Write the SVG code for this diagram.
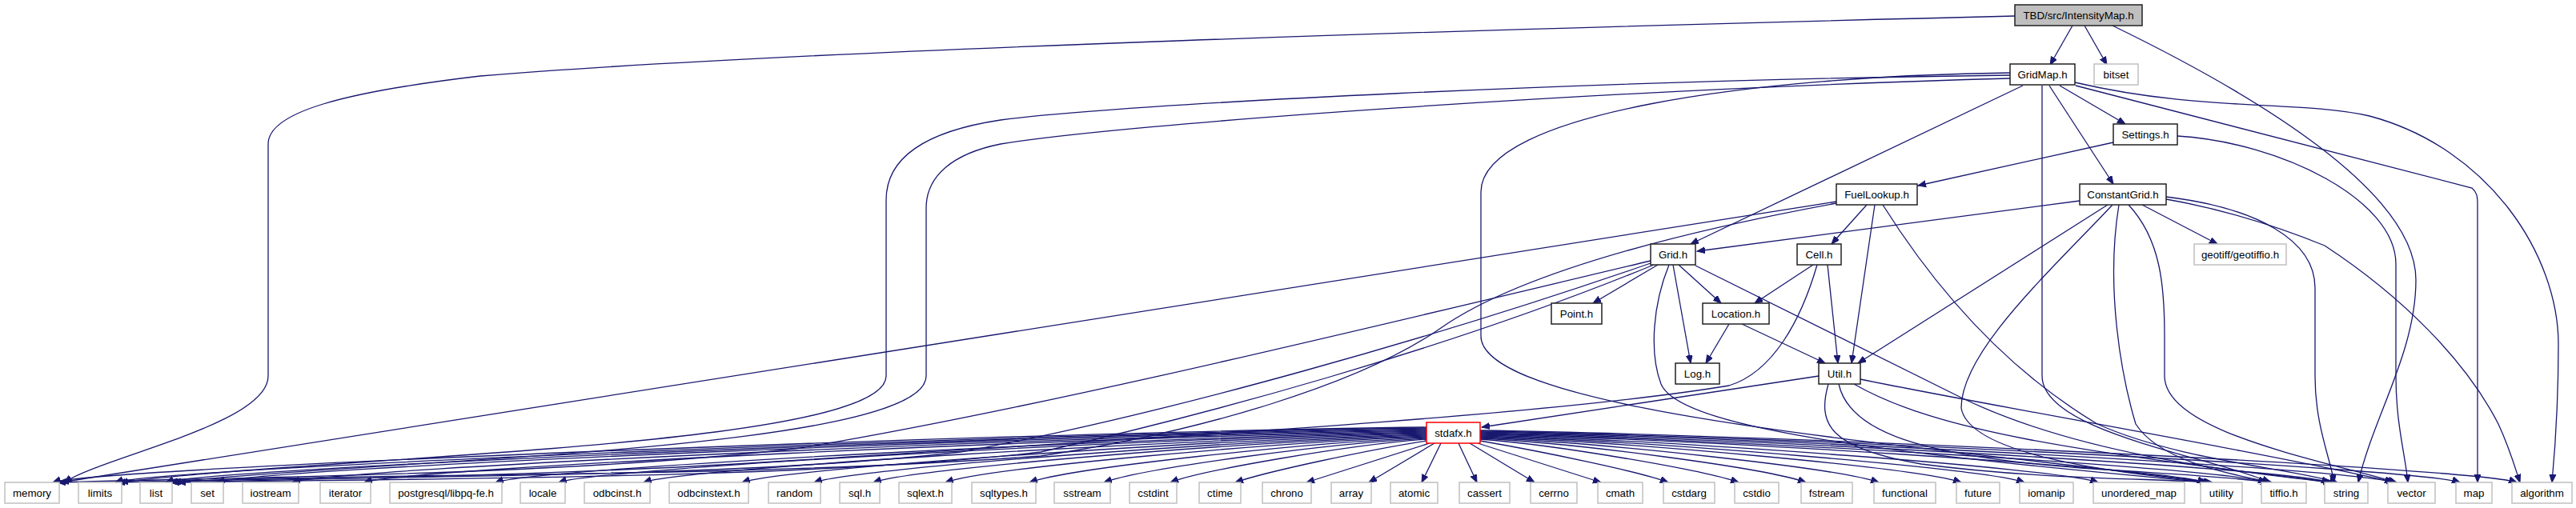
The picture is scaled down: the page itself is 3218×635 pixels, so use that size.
<svg xmlns="http://www.w3.org/2000/svg" width="3218" height="635" viewBox="0 0 3218 635">
<style>
.e{fill:none;stroke:#191970;stroke-width:1.3;marker-end:url(#a)}
.n rect{fill:#fff;stroke:#222;stroke-width:1.5}
.x rect{fill:#fff;stroke:#c0c0c0;stroke-width:1.5}
.r rect{fill:#bfbfbf;stroke:#222;stroke-width:1.5}
.t rect{fill:#fff;stroke:#ff0000;stroke-width:1.5}
text{font-family:"Liberation Sans",Arial,Helvetica,sans-serif;font-size:13.3px;fill:#000;text-anchor:middle}
</style>
<defs>
<marker id="a" markerWidth="11" markerHeight="9" refX="10" refY="4" orient="auto" markerUnits="userSpaceOnUse"><path d="M0,0 L10,4 L0,8 z" fill="#191970" stroke="#191970" stroke-width="1"/></marker>
</defs>
<rect width="3218" height="635" fill="#fff"/>
<g id="edges">
<path class="e" d="M2517,20 C1900,35 1000,62 600,95 C430,115 335,140 335,180 L335,470 C335,530 130,570 80,603"/>
<path class="e" d="M2589,32 L2561,81"/>
<path class="e" d="M2604,32 L2632,81"/>
<path class="e" d="M2639,32 C2820,120 3018,240 3018,350 C3018,440 2965,520 2946,603"/>
<path class="e" d="M2511,94 C2000,100 1400,130 1250,150 C1150,165 1107,200 1107,250 L1107,470 C1107,560 400,570 150,603"/>
<path class="e" d="M2511,98 C2000,112 1400,155 1250,180 C1190,192 1157,220 1157,260 L1157,470 C1157,565 450,575 212,603"/>
<path class="e" d="M2511,91 C2200,95 1850,140 1850,240 L1850,420 C1850,520 2450,560 2762,603"/>
<path class="e" d="M2527,107 L2112,305"/>
<path class="e" d="M2551,107 L2551,470 C2551,540 2760,570 2836,603"/>
<path class="e" d="M2560,107 L2640,230"/>
<path class="e" d="M2573,107 L2655,155"/>
<path class="e" d="M2592,103 C2750,140 2870,125 2960,145 C3110,185 3196,320 3196,430 C3196,500 3192,560 3188,603"/>
<path class="e" d="M2593,107 L3088,235 C3094,240 3095,245 3095,255 L3095,603"/>
<path class="e" d="M2640,178 L2396,232"/>
<path class="e" d="M2720,170 C2850,178 2993,250 2993,330 L2993,470 C2993,530 3005,570 3008,603"/>
<path class="e" d="M2332,256 L2288,305"/>
<path class="e" d="M2342,256 L2313,454"/>
<path class="e" d="M2352,256 C2430,380 2520,470 2620,530 C2720,575 2860,585 2920,603"/>
<path class="e" d="M2294,252 L76,603"/>
<path class="e" d="M2294,254 C2100,290 1900,340 1800,410 C1700,480 1500,540 1300,570 C900,600 400,590 216,603"/>
<path class="e" d="M2071,331 L1990,379"/>
<path class="e" d="M2097,331 L2150,379"/>
<path class="e" d="M2090,331 L2112,454"/>
<path class="e" d="M2062,326 C1700,412 1300,510 1000,560 C700,595 300,596 72,603"/>
<path class="e" d="M2062,329 C1800,420 1450,520 1200,565 C900,600 400,595 146,603"/>
<path class="e" d="M2066,331 C1800,440 1500,520 1300,565 C1000,600 500,598 214,603"/>
<path class="e" d="M2085,331 C2065,380 2060,440 2075,480 C2100,540 2400,570 2758,603"/>
<path class="e" d="M2118,332 L2450,497 C2600,570 2800,590 2912,603"/>
<path class="e" d="M2265,331 L2192,379"/>
<path class="e" d="M2283,331 L2296,454"/>
<path class="e" d="M2270,331 C2250,400 2215,465 2160,482 C1900,525 1300,555 1000,575 C700,595 400,598 222,603"/>
<path class="e" d="M2160,405 L2131,454"/>
<path class="e" d="M2176,405 L2280,454"/>
<path class="e" d="M2272,470 L1851,534"/>
<path class="e" d="M2284,480 C2270,530 2284,560 2400,580 C2550,600 2700,598 2760,603"/>
<path class="e" d="M2297,480 C2310,540 2400,570 2600,585 C2700,592 2790,596 2834,603"/>
<path class="e" d="M2316,480 C2420,540 2600,565 2914,603"/>
<path class="e" d="M2324,474 C2500,510 2800,560 2992,603"/>
<path class="e" d="M2598,251 L2120,314"/>
<path class="e" d="M2633,256 L2321,454"/>
<path class="e" d="M2676,256 L2770,305"/>
<path class="e" d="M2639,256 C2560,340 2450,440 2450,510 C2460,570 2650,592 2764,603"/>
<path class="e" d="M2647,256 C2630,360 2650,470 2668,530 C2700,580 2800,595 2838,603"/>
<path class="e" d="M2659,256 C2700,300 2704,360 2704,420 L2704,470 C2704,540 2900,575 2994,603"/>
<path class="e" d="M2706,246 C2820,260 2892,300 2892,360 L2892,470 C2892,530 2910,570 2916,603"/>
<path class="e" d="M2706,249 C2780,262 2850,285 2904,307 C3000,370 3080,450 3121,530 C3135,560 3142,585 3148,603"/>
<path class="e" d="M1782,534 C1267,540 116,585 66,603"/>
<path class="e" d="M1782,535 C1291,541 194,585 144,603"/>
<path class="e" d="M1782,536 C1310,542 257,585 207,603"/>
<path class="e" d="M1782,537 C1329,543 321,585 271,603"/>
<path class="e" d="M1782,538 C1357,544 415,585 365,603"/>
<path class="e" d="M1782,539 C1384,545 505,585 455,603"/>
<path class="e" d="M1782,540 C1433,546 669,585 619,603"/>
<path class="e" d="M1782,541 C1457,547 748,585 698,603"/>
<path class="e" d="M1782,542 C1489,548 854,585 804,603"/>
<path class="e" d="M1782,543 C1526,549 977,585 927,603"/>
<path class="e" d="M1782,544 C1553,550 1067,585 1017,603"/>
<path class="e" d="M1782,545 C1575,551 1141,585 1091,603"/>
<path class="e" d="M1782,546 C1602,552 1231,585 1181,603"/>
<path class="e" d="M1782,547 C1633,553 1336,585 1286,603"/>
<path class="e" d="M1782,548 C1661,554 1429,585 1379,603"/>
<path class="e" d="M1782,549 C1686,556 1500,588 1462,603"/>
<path class="e" d="M1782,551 C1710,562 1580,590 1543,603"/>
<path class="e" d="M1786,554 L1632,603"/>
<path class="e" d="M1792,554 L1710,603"/>
<path class="e" d="M1800,554 L1776,603"/>
<path class="e" d="M1822,554 L1845,603"/>
<path class="e" d="M1836,554 L1917,603"/>
<path class="e" d="M1846,554 L2000,603"/>
<path class="e" d="M1849,551 C1930,565 2050,590 2084,603"/>
<path class="e" d="M1849,549 C1945,556 2130,588 2172,603"/>
<path class="e" d="M1849,548 C1971,554 2206,585 2256,603"/>
<path class="e" d="M1849,547 C1998,553 2297,585 2347,603"/>
<path class="e" d="M1849,546 C2029,552 2400,585 2450,603"/>
<path class="e" d="M1849,545 C2053,551 2479,585 2529,603"/>
<path class="e" d="M1849,544 C2081,550 2571,585 2621,603"/>
<path class="e" d="M1849,543 C2121,549 2705,585 2755,603"/>
<path class="e" d="M1849,542 C2144,548 2781,585 2831,603"/>
<path class="e" d="M1849,541 C2167,547 2860,585 2910,603"/>
<path class="e" d="M1849,540 C2191,546 2939,585 2989,603"/>
<path class="e" d="M1849,539 C2216,545 3023,585 3073,603"/>
<path class="e" d="M1849,538 C2238,544 3094,585 3144,603"/>
</g>
<g id="n-IntensityMap" class="r"><rect x="2517" y="6" width="159" height="26"/><text x="2596.5" y="23.5">TBD/src/IntensityMap.h</text></g>
<g id="n-GridMap" class="n"><rect x="2511" y="80" width="81" height="26"/><text x="2551.5" y="97.5">GridMap.h</text></g>
<g id="n-bitset" class="x"><rect x="2616" y="80" width="55" height="26"/><text x="2643.5" y="97.5">bitset</text></g>
<g id="n-Settings" class="n"><rect x="2640" y="155" width="80" height="26"/><text x="2680" y="172.5">Settings.h</text></g>
<g id="n-FuelLookup" class="n"><rect x="2294" y="230" width="101" height="26"/><text x="2344.5" y="247.5">FuelLookup.h</text></g>
<g id="n-ConstantGrid" class="n"><rect x="2598" y="230" width="108" height="26"/><text x="2652" y="247.5">ConstantGrid.h</text></g>
<g id="n-Grid" class="n"><rect x="2062" y="305" width="56" height="26"/><text x="2090" y="322.5">Grid.h</text></g>
<g id="n-Cell" class="n"><rect x="2245" y="305" width="55" height="26"/><text x="2272.5" y="322.5">Cell.h</text></g>
<g id="n-geotiff" class="x"><rect x="2741" y="305" width="115" height="26"/><text x="2798.5" y="322.5">geotiff/geotiffio.h</text></g>
<g id="n-Point" class="n"><rect x="1938" y="379" width="63" height="26"/><text x="1969.5" y="396.5">Point.h</text></g>
<g id="n-Location" class="n"><rect x="2127" y="379" width="83" height="26"/><text x="2168.5" y="396.5">Location.h</text></g>
<g id="n-Log" class="n"><rect x="2093" y="454" width="55" height="26"/><text x="2120.5" y="471.5">Log.h</text></g>
<g id="n-Util" class="n"><rect x="2272" y="454" width="52" height="26"/><text x="2298" y="471.5">Util.h</text></g>
<g id="n-stdafx" class="t"><rect x="1782" y="528" width="67" height="26"/><text x="1815.5" y="545.5">stdafx.h</text></g>
<g id="n-memory" class="x"><rect x="6" y="603" width="68" height="26"/><text x="40" y="620.5">memory</text></g>
<g id="n-limits" class="x"><rect x="98" y="603" width="54" height="26"/><text x="125" y="620.5">limits</text></g>
<g id="n-list" class="x"><rect x="175" y="603" width="40" height="26"/><text x="195" y="620.5">list</text></g>
<g id="n-set" class="x"><rect x="239" y="603" width="40" height="26"/><text x="259" y="620.5">set</text></g>
<g id="n-iostream" class="x"><rect x="303" y="603" width="70" height="26"/><text x="338" y="620.5">iostream</text></g>
<g id="n-iterator" class="x"><rect x="400" y="603" width="63" height="26"/><text x="431.5" y="620.5">iterator</text></g>
<g id="n-postgresql" class="x"><rect x="487" y="603" width="140" height="26"/><text x="557" y="620.5">postgresql/libpq-fe.h</text></g>
<g id="n-locale" class="x"><rect x="650" y="603" width="56" height="26"/><text x="678" y="620.5">locale</text></g>
<g id="n-odbcinst" class="x"><rect x="730" y="603" width="82" height="26"/><text x="771" y="620.5">odbcinst.h</text></g>
<g id="n-odbcinstext" class="x"><rect x="836" y="603" width="99" height="26"/><text x="885.5" y="620.5">odbcinstext.h</text></g>
<g id="n-random" class="x"><rect x="960" y="603" width="65" height="26"/><text x="992.5" y="620.5">random</text></g>
<g id="n-sql" class="x"><rect x="1049" y="603" width="50" height="26"/><text x="1074" y="620.5">sql.h</text></g>
<g id="n-sqlext" class="x"><rect x="1123" y="603" width="66" height="26"/><text x="1156" y="620.5">sqlext.h</text></g>
<g id="n-sqltypes" class="x"><rect x="1214" y="603" width="80" height="26"/><text x="1254" y="620.5">sqltypes.h</text></g>
<g id="n-sstream" class="x"><rect x="1317" y="603" width="70" height="26"/><text x="1352" y="620.5">sstream</text></g>
<g id="n-cstdint" class="x"><rect x="1411" y="603" width="59" height="26"/><text x="1440.5" y="620.5">cstdint</text></g>
<g id="n-ctime" class="x"><rect x="1498" y="603" width="52" height="26"/><text x="1524" y="620.5">ctime</text></g>
<g id="n-chrono" class="x"><rect x="1577" y="603" width="61" height="26"/><text x="1607.5" y="620.5">chrono</text></g>
<g id="n-array" class="x"><rect x="1663" y="603" width="50" height="26"/><text x="1688" y="620.5">array</text></g>
<g id="n-atomic" class="x"><rect x="1737" y="603" width="59" height="26"/><text x="1766.5" y="620.5">atomic</text></g>
<g id="n-cassert" class="x"><rect x="1823" y="603" width="63" height="26"/><text x="1854.5" y="620.5">cassert</text></g>
<g id="n-cerrno" class="x"><rect x="1912" y="603" width="58" height="26"/><text x="1941" y="620.5">cerrno</text></g>
<g id="n-cmath" class="x"><rect x="1996" y="603" width="56" height="26"/><text x="2024" y="620.5">cmath</text></g>
<g id="n-cstdarg" class="x"><rect x="2078" y="603" width="64" height="26"/><text x="2110" y="620.5">cstdarg</text></g>
<g id="n-cstdio" class="x"><rect x="2167" y="603" width="55" height="26"/><text x="2194.5" y="620.5">cstdio</text></g>
<g id="n-fstream" class="x"><rect x="2250" y="603" width="64" height="26"/><text x="2282" y="620.5">fstream</text></g>
<g id="n-functional" class="x"><rect x="2341" y="603" width="77" height="26"/><text x="2379.5" y="620.5">functional</text></g>
<g id="n-future" class="x"><rect x="2444" y="603" width="54" height="26"/><text x="2471" y="620.5">future</text></g>
<g id="n-iomanip" class="x"><rect x="2523" y="603" width="67" height="26"/><text x="2556.5" y="620.5">iomanip</text></g>
<g id="n-unordered_map" class="x"><rect x="2615" y="603" width="114" height="26"/><text x="2672" y="620.5">unordered_map</text></g>
<g id="n-utility" class="x"><rect x="2749" y="603" width="52" height="26"/><text x="2775" y="620.5">utility</text></g>
<g id="n-tiffio" class="x"><rect x="2825" y="603" width="56" height="26"/><text x="2853" y="620.5">tiffio.h</text></g>
<g id="n-string" class="x"><rect x="2904" y="603" width="54" height="26"/><text x="2931" y="620.5">string</text></g>
<g id="n-vector" class="x"><rect x="2983" y="603" width="59" height="26"/><text x="3012.5" y="620.5">vector</text></g>
<g id="n-map" class="x"><rect x="3068" y="603" width="45" height="26"/><text x="3090.5" y="620.5">map</text></g>
<g id="n-algorithm" class="x"><rect x="3138" y="603" width="75" height="26"/><text x="3175.5" y="620.5">algorithm</text></g>
</svg>
